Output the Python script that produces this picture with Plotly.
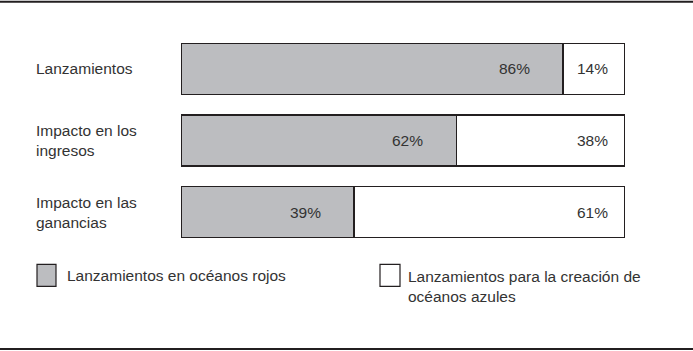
import plotly.graph_objects as go

categories = ["Lanzamientos", "Impacto en los<br>ingresos", "Impacto en las<br>ganancias"]
red_ocean = [86, 62, 39]
blue_ocean = [14, 38, 61]
series_names = ["Lanzamientos en océanos rojos", "Lanzamientos para la creación de<br>océanos azules"]

GRAY = "#bcbdc0"
INK = "#231f20"
TXT = "#333333"
FONT = "Liberation Sans"

W, H = 693, 351
L, R, T, B = 181, 68, 32.5, 102.5
pw, ph = W - L - R, H - T - B

def px(x):
    return (x - L) / pw

def py(y):
    return (H - B - y) / ph

ypos = list(range(len(categories)))

fig = go.Figure()
fig.add_trace(go.Bar(y=ypos, x=red_ocean, orientation="h", name=series_names[0],
                     marker=dict(color=GRAY, line=dict(color=INK, width=1.5)),
                     hoverinfo="skip", showlegend=False))
fig.add_trace(go.Bar(y=ypos, x=blue_ocean, orientation="h", name=series_names[1],
                     marker=dict(color="white", line=dict(color=INK, width=1.5)),
                     hoverinfo="skip", showlegend=False))

font = dict(family=FONT, size=15.5, color=TXT)
annotations = []
for i, (a, b) in enumerate(zip(red_ocean, blue_ocean)):
    annotations.append(dict(x=a, y=i, xref="x", yref="y", text=f"{a}%", showarrow=False,
                            xanchor="right", yanchor="middle", xshift=-31, font=font))
    annotations.append(dict(x=a + b, y=i, xref="x", yref="y", text=f"{b}%", showarrow=False,
                            xanchor="right", yanchor="middle", xshift=-15, font=font))
    annotations.append(dict(x=px(34), y=i, xref="paper", yref="y", text=categories[i], showarrow=False,
                            xanchor="left", yanchor="middle", align="left", yshift=0, font=font))

# legend
annotations.append(dict(x=px(65), y=py(276), xref="paper", yref="paper", text=series_names[0],
                        showarrow=False, xanchor="left", yanchor="middle", align="left", font=font))
annotations.append(dict(x=px(406), y=py(287), xref="paper", yref="paper", text=series_names[1],
                        showarrow=False, xanchor="left", yanchor="middle", align="left", font=font))

shapes = [
    dict(type="rect", xref="paper", yref="paper", x0=px(37), x1=px(56), y0=py(265), y1=py(287),
         fillcolor=GRAY, line=dict(color=INK, width=1.2)),
    dict(type="rect", xref="paper", yref="paper", x0=px(380), x1=px(400), y0=py(265), y1=py(287),
         fillcolor="white", line=dict(color=INK, width=1.2)),
    dict(type="line", xref="paper", yref="paper", x0=px(0), x1=px(W), y0=py(1), y1=py(1),
         line=dict(color=INK, width=2)),
    dict(type="line", xref="paper", yref="paper", x0=px(0), x1=px(W), y0=py(350), y1=py(350),
         line=dict(color=INK, width=2)),
]

fig.update_layout(
    width=W, height=H,
    margin=dict(l=L, r=R, t=T, b=B),
    barmode="stack", bargap=0.29,
    paper_bgcolor="white", plot_bgcolor="white",
    xaxis=dict(range=[0, 100], visible=False, fixedrange=True),
    yaxis=dict(range=[2.5, -0.5], visible=False, fixedrange=True),
    annotations=annotations, shapes=shapes,
    showlegend=False,
)

fig.write_html("out.html", config={"displayModeBar": False})
